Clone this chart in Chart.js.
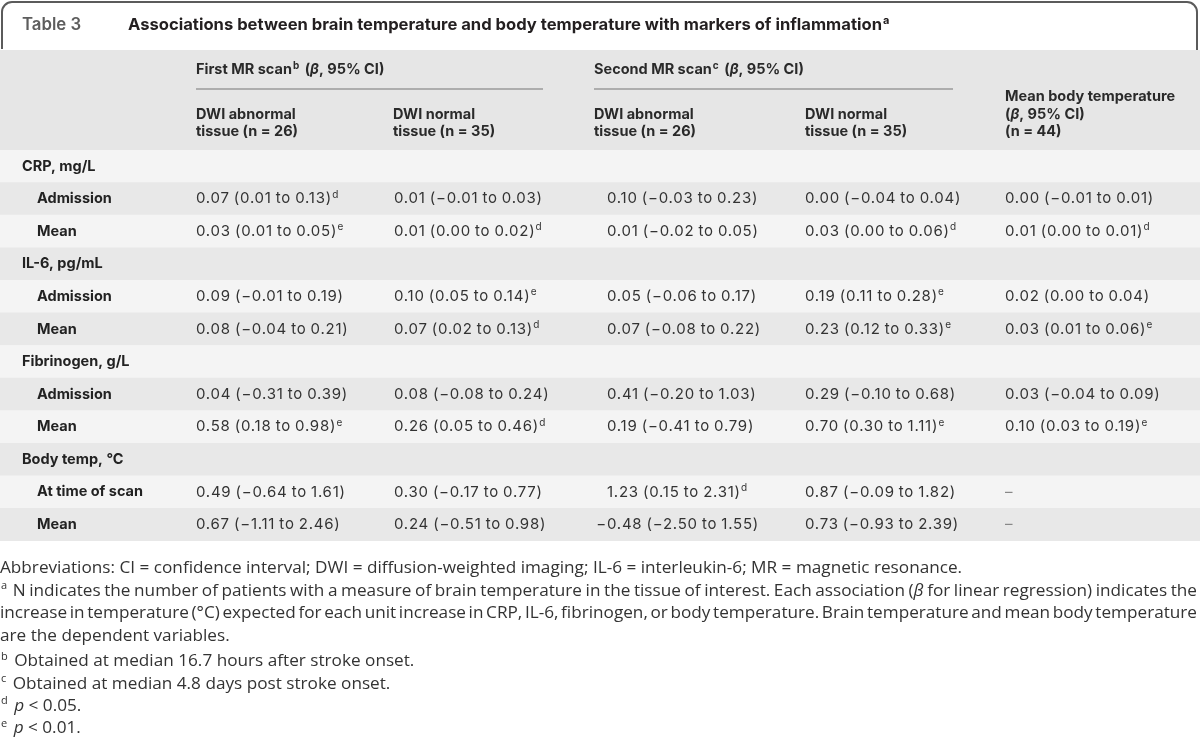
<!DOCTYPE html>
<html>
<head>
<meta charset="utf-8">
<script src="https://cdn.jsdelivr.net/npm/chart.js@4.4.0/dist/chart.umd.min.js"></script>
<style>
  html, body { margin: 0; padding: 0; background: #fff; }
  #wrap { width: 1200px; height: 739px; }
</style>
</head>
<body>
<div id="wrap"><canvas id="table3" width="1200" height="739"></canvas></div>
<script>
// ---- table content ----
const tableNumber = 'Table 3';
const tableTitle = 'Associations between brain temperature and body temperature with markers of inflammation^a';
const groupHeaders = ['First MR scan^b (*β*, 95% CI)', 'Second MR scan^c (*β*, 95% CI)'];
const columnHeaders = [
  ['DWI abnormal', 'tissue (n = 26)'],
  ['DWI normal', 'tissue (n = 35)'],
  ['DWI abnormal', 'tissue (n = 26)'],
  ['DWI normal', 'tissue (n = 35)'],
  ['Mean body temperature', '(*β*, 95% CI)', '(n = 44)']
];
const rowLabels = ['CRP, mg/L', 'Admission', 'Mean', 'IL-6, pg/mL', 'Admission', 'Mean',
  'Fibrinogen, g/L', 'Admission', 'Mean', 'Body temp, °C', 'At time of scan', 'Mean'];
const rowIsGroup = [true, false, false, true, false, false, true, false, false, true, false, false];
const firstAbnormal = ['', '0.07 (0.01 to 0.13)^d', '0.03 (0.01 to 0.05)^e', '', '0.09 (−0.01 to 0.19)', '0.08 (−0.04 to 0.21)',
  '', '0.04 (−0.31 to 0.39)', '0.58 (0.18 to 0.98)^e', '', '0.49 (−0.64 to 1.61)', '0.67 (−1.11 to 2.46)'];
const firstNormal = ['', '0.01 (−0.01 to 0.03)', '0.01 (0.00 to 0.02)^d', '', '0.10 (0.05 to 0.14)^e', '0.07 (0.02 to 0.13)^d',
  '', '0.08 (−0.08 to 0.24)', '0.26 (0.05 to 0.46)^d', '', '0.30 (−0.17 to 0.77)', '0.24 (−0.51 to 0.98)'];
const secondAbnormal = ['', '0.10 (−0.03 to 0.23)', '0.01 (−0.02 to 0.05)', '', '0.05 (−0.06 to 0.17)', '0.07 (−0.08 to 0.22)',
  '', '0.41 (−0.20 to 1.03)', '0.19 (−0.41 to 0.79)', '', '1.23 (0.15 to 2.31)^d', '−0.48 (−2.50 to 1.55)'];
const secondNormal = ['', '0.00 (−0.04 to 0.04)', '0.03 (0.00 to 0.06)^d', '', '0.19 (0.11 to 0.28)^e', '0.23 (0.12 to 0.33)^e',
  '', '0.29 (−0.10 to 0.68)', '0.70 (0.30 to 1.11)^e', '', '0.87 (−0.09 to 1.82)', '0.73 (−0.93 to 2.39)'];
const meanBody = ['', '0.00 (−0.01 to 0.01)', '0.01 (0.00 to 0.01)^d', '', '0.02 (0.00 to 0.04)', '0.03 (0.01 to 0.06)^e',
  '', '0.03 (−0.04 to 0.09)', '0.10 (0.03 to 0.19)^e', '', '–', '–'];
const footnotes = [
  'Abbreviations: CI = confidence interval; DWI = diffusion-weighted imaging; IL-6 = interleukin-6; MR = magnetic resonance.',
  '^a N indicates the number of patients with a measure of brain temperature in the tissue of interest. Each association (*β* for linear regression) indicates the',
  'increase in temperature (°C) expected for each unit increase in CRP, IL-6, fibrinogen, or body temperature. Brain temperature and mean body temperature',
  'are the dependent variables.',
  '^b Obtained at median 16.7 hours after stroke onset.',
  '^c Obtained at median 4.8 days post stroke onset.',
  '^d *p* < 0.05.',
  '^e *p* < 0.01.'
];
const justifiedNotes = [false, true, true, false, false, false, false, false];

// ---- layout ----
const tableFont = 'Inter, "Liberation Sans", sans-serif';
const noteFont = '"Open Sans", Roboto, sans-serif';
const valueColumns = [firstAbnormal, firstNormal, secondAbnormal, secondNormal, meanBody];
const columnX = [196, 394, 607, 805, 1005];
const headerX = [196, 393, 594, 805, 1005];
const xMax = 1200;
const stripeSpan = rowLabels.map(() => xMax);

// draws text with ^x superscripts and *italic* runs; returns end x
function drawRich(ctx, text, x, y, st) {
  const { size, weight = 400, color = '#333', family = tableFont, spacing = 0, wordGap = 0, dry = false } = st;
  let italic = false, cx = x, i = 0;
  ctx.fillStyle = color;
  ctx.textBaseline = 'middle';
  ctx.textAlign = 'left';
  const hasSpacing = 'letterSpacing' in ctx;
  while (i < text.length) {
    const ch = text[i];
    if (ch === '*') { italic = !italic; i++; continue; }
    if (ch === '^') {
      const s = text[i + 1];
      if (hasSpacing) ctx.letterSpacing = '0px';
      ctx.font = `${weight} ${Math.round(size * 0.66)}px ${family}`;
      const sx = cx - (hasSpacing ? spacing : 0) + 1;
      if (!dry) ctx.fillText(s, sx, y - size * 0.28);
      cx = sx + ctx.measureText(s).width + 2;
      i += 2;
      continue;
    }
    let j = i;
    while (j < text.length && text[j] !== '*' && text[j] !== '^' && text[j] !== ' ') j++;
    if (j === i) j = i + 1; // single space
    const run = text.slice(i, j);
    if (hasSpacing) ctx.letterSpacing = spacing + 'px';
    ctx.font = `${italic ? 'italic ' : ''}${weight} ${size}px ${family}`;
    if (!dry && run !== ' ') ctx.fillText(run, cx, y);
    cx += ctx.measureText(run).width + (run === ' ' ? wordGap : 0);
    i = j;
  }
  if (hasSpacing) ctx.letterSpacing = '0px';
  return cx;
}

const tablePlugin = {
  id: 'tableText',
  beforeDraw(chart) {
    const ctx = chart.ctx;
    ctx.save();
    ctx.fillStyle = '#fff';
    ctx.fillRect(0, 0, chart.width, chart.height);
    // header band
    ctx.fillStyle = '#e6e6e6';
    ctx.fillRect(0, 50, xMax, chart.chartArea.top - 50);
    // title frame
    ctx.strokeStyle = '#5b5b5b';
    ctx.lineWidth = 2;
    ctx.beginPath();
    ctx.moveTo(2, 49);
    ctx.lineTo(2, 12);
    ctx.arcTo(2, 2, 12, 2, 10);
    ctx.lineTo(1187, 2);
    ctx.arcTo(1197, 2, 1197, 12, 10);
    ctx.lineTo(1197, 50);
    ctx.stroke();
    ctx.restore();
  },
  afterDatasetsDraw(chart) {
    const ctx = chart.ctx;
    const y = chart.scales.y;
    const x = chart.scales.x;
    ctx.save();

    drawRich(ctx, tableNumber, 22, 25, { size: 16.8, weight: 600, color: '#5d5d5d' });
    drawRich(ctx, tableTitle, 128, 25, { size: 16.6, weight: 700, color: '#231f20' });

    // group headers with rules
    const head = { size: 14.5, weight: 700, color: '#2a2a2a' };
    drawRich(ctx, groupHeaders[0], headerX[0], 70, head);
    drawRich(ctx, groupHeaders[1], headerX[2], 70, head);
    ctx.strokeStyle = '#9a9a9a';
    ctx.lineWidth = 1.5;
    ctx.beginPath();
    ctx.moveTo(196, 89); ctx.lineTo(543, 89);
    ctx.moveTo(594, 89); ctx.lineTo(953, 89);
    ctx.stroke();

    columnHeaders.forEach((lines, c) => {
      const startY = 132 - (lines.length - 1) * 17.5;
      lines.forEach((ln, k) => drawRich(ctx, ln, headerX[c], startY + k * 17.5, head));
    });

    // body rows
    const val = { size: 15, weight: 400, color: '#333', spacing: 0.75, wordGap: -0.8 };
    rowLabels.forEach((label, r) => {
      const py = y.getPixelForValue(r);
      const lx = x.getPixelForValue(rowIsGroup[r] ? 22 : 37);
      drawRich(ctx, label, lx, py, { size: 14.5, weight: 700, color: '#222' });
      valueColumns.forEach((col, c) => {
        const txt = col[r];
        if (!txt) return;
        let px = x.getPixelForValue(columnX[c]);
        if (txt[0] === '−') px -= drawRich(ctx, '−', 0, 0, { ...val, dry: true });
        drawRich(ctx, txt, px, py, { ...val, color: txt === '–' ? '#888' : '#333' });
      });
    });

    // footnotes: size from the first line, full lines justified to the right edge
    const probe = drawRich(ctx, footnotes[0], 0, 0, { size: 16, family: noteFont, dry: true });
    const noteSize = 16 * 963 / probe;
    footnotes.forEach((ln, k) => {
      const fy = k < 4 ? 568 + k * 22.8 : 661.5 + (k - 4) * 22.3;
      const st = { size: noteSize, family: noteFont, color: '#333' };
      if (justifiedNotes[k]) {
        const w = drawRich(ctx, ln, 0, 0, { ...st, dry: true });
        const gaps = (ln.match(/ /g) || []).length;
        st.wordGap = (1197 - w) / gaps;
      }
      drawRich(ctx, ln, 0, fy, st);
    });
    ctx.restore();
  }
};

const canvas = document.getElementById('table3');
new Chart(canvas.getContext('2d'), {
  type: 'bar',
  data: {
    labels: rowLabels,
    datasets: [{
      data: stripeSpan,
      backgroundColor: rowLabels.map((_, i) => (i % 2 ? '#e8e8e8' : '#f4f4f4')),
      borderWidth: 0,
      barPercentage: 1,
      categoryPercentage: 1
    }]
  },
  options: {
    indexAxis: 'y',
    responsive: false,
    animation: false,
    devicePixelRatio: 1,
    events: [],
    layout: { padding: { top: 150, bottom: 198, left: 0, right: 0 } },
    scales: {
      x: { display: false, min: 0, max: xMax },
      y: { display: false, offset: true }
    },
    plugins: {
      legend: { display: false },
      tooltip: { enabled: false },
      title: { display: false }
    }
  },
  plugins: [tablePlugin]
});
</script>
</body>
</html>
